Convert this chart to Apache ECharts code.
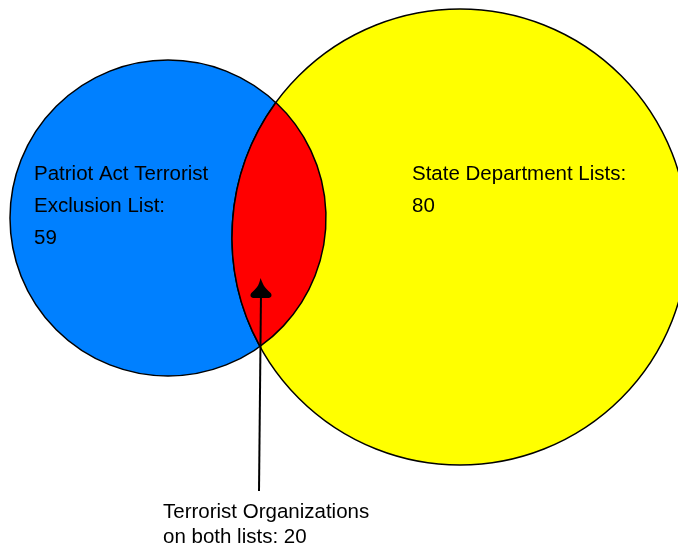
<!DOCTYPE html>
<html>
<head>
<meta charset="utf-8">
<script src="https://cdn.jsdelivr.net/npm/echarts@6/dist/echarts.min.js"></script>
<style>
  html, body { margin: 0; padding: 0; background: #fff; }
  #main { width: 678px; height: 552px; }
</style>
</head>
<body>
<div id="main"></div>
<script>
// 两个名单及其交集
var setNames = ['Patriot Act Terrorist\nExclusion List:', 'State Department Lists:'];
var setCounts = [59, 80];
var overlapName = 'Terrorist Organizations\non both lists:';
var overlapCount = 20;

// layout, in axis units (the hidden axes span the canvas)
var circleCenters = [[168, 218], [460, 237]];
var circleRadii = [158, 228];
var labelAnchors = [[34, 158], [412, 158]];
var overlapLabelAnchor = [163, 500];
var arrowFrom = [259, 491];
var arrowTo = [261, 278];

var setColors = ['#0080ff', '#ffff00'];
var overlapColor = '#ff0000';
var textFont = '20.5px "Liberation Sans", Arial, sans-serif';

var chart = echarts.init(document.getElementById('main'));

// 两圆交集的透镜形路径
function lensPath(p0, r0, p1, r1) {
  var dx = p1[0] - p0[0], dy = p1[1] - p0[1];
  var d = Math.sqrt(dx * dx + dy * dy);
  var a = (r0 * r0 - r1 * r1 + d * d) / (2 * d);
  var h = Math.sqrt(r0 * r0 - a * a);
  var mx = p0[0] + a * dx / d, my = p0[1] + a * dy / d;
  var top = [mx + h * dy / d, my - h * dx / d];
  var bot = [mx - h * dy / d, my + h * dx / d];
  return 'M' + top[0] + ',' + top[1] +
    ' A' + r0 + ',' + r0 + ' 0 0 1 ' + bot[0] + ',' + bot[1] +
    ' A' + r1 + ',' + r1 + ' 0 0 1 ' + top[0] + ',' + top[1] + ' Z';
}

chart.setOption({
  animation: false,
  grid: { left: 0, right: 0, top: 0, bottom: 0 },
  xAxis: { type: 'value', min: 0, max: 678, show: false },
  yAxis: { type: 'value', min: 0, max: 552, inverse: true, show: false },
  series: [
    {
      type: 'custom',
      z: 2,
      silent: true,
      data: setCounts.map(function (c, i) {
        return [circleCenters[i][0], circleCenters[i][1], circleRadii[i], c];
      }),
      renderItem: function (params, api) {
        var i = params.dataIndex;
        var c = api.coord([api.value(0), api.value(1)]);
        var r = api.size([api.value(2), 0])[0];
        var t = api.coord(labelAnchors[i]);
        return {
          type: 'group',
          children: [
            {
              type: 'circle',
              shape: { cx: c[0], cy: c[1], r: r },
              style: { fill: setColors[i], stroke: '#000', lineWidth: 1.5 }
            },
            {
              type: 'text',
              x: t[0],
              y: t[1],
              z2: 10,
              style: {
                text: setNames[i] + '\n' + api.value(3),
                font: textFont,
                fill: '#000',
                align: 'left',
                verticalAlign: 'top',
                lineHeight: 32
              }
            }
          ]
        };
      }
    },
    {
      type: 'custom',
      z: 3,
      silent: true,
      data: [[overlapLabelAnchor[0], overlapLabelAnchor[1], overlapCount]],
      renderItem: function (params, api) {
        var p0 = api.coord(circleCenters[0]);
        var p1 = api.coord(circleCenters[1]);
        var r0 = api.size([circleRadii[0], 0])[0];
        var r1 = api.size([circleRadii[1], 0])[0];
        var from = api.coord(arrowFrom);
        var tip = api.coord(arrowTo);
        var t = api.coord([api.value(0), api.value(1)]);
        return {
          type: 'group',
          children: [
            {
              type: 'path',
              shape: { pathData: lensPath(p0, r0, p1, r1) },
              style: { fill: overlapColor, stroke: '#000', lineWidth: 1.5 }
            },
            {
              type: 'line',
              shape: { x1: from[0], y1: from[1], x2: tip[0], y2: tip[1] + 14 },
              style: { stroke: '#000', lineWidth: 2 }
            },
            {
              type: 'path',
              shape: {
                pathData: 'M10,0 C12,5 13,9 20,15 C22,18 20,20 17,20 L4,20 C1,20 -1,18 1,15 C8,9 9,5 10,0 Z',
                x: tip[0] - 10.5,
                y: tip[1],
                width: 21,
                height: 20,
                layout: 'cover'
              },
              style: { fill: '#000' }
            },
            {
              type: 'text',
              x: t[0],
              y: t[1],
              style: {
                text: overlapName + ' ' + api.value(2),
                font: textFont,
                fill: '#000',
                align: 'left',
                verticalAlign: 'top',
                lineHeight: 25
              }
            }
          ]
        };
      }
    }
  ]
});
</script>
</body>
</html>
